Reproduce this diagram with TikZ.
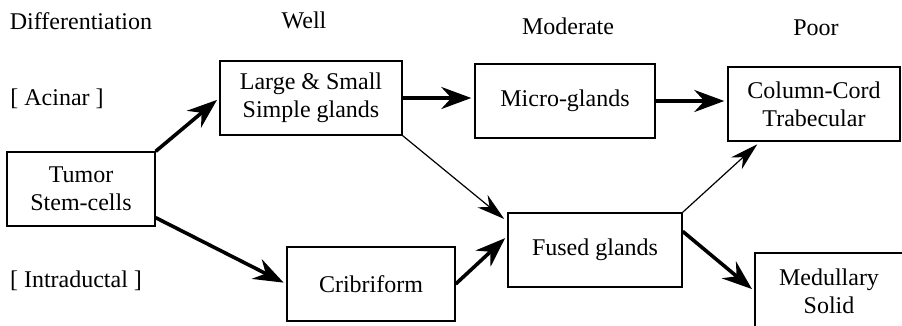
\documentclass[tikz,border=0pt]{standalone}
\usepackage{fontspec}
\setmainfont{Liberation Serif}
\usetikzlibrary{arrows.meta}
\begin{document}
\begin{tikzpicture}[x=0.5pt, y=-0.5pt, every node/.style={font=\fontsize{12}{14}\selectfont},
  box/.style={draw, line width=0.7pt, align=center, inner sep=0pt, minimum height=37pt},
  heavy/.style={line width=1.8pt, -{Stealth[length=15pt,width=11pt,inset=5pt]}, shorten >=1.5pt},
  light/.style={line width=0.6pt, -{Stealth[length=14pt,width=8pt,inset=4.5pt]}, shorten >=2pt}]
\useasboundingbox (0,0) rectangle (902,326);
\node (diff) at (81,21) {Differentiation};
\node (well) at (304,20) {Well};
\node (moder) at (568,26) {Moderate};
\node (poor) at (816,28) {Poor};
\node (acinar) at (57,99) {[ Acinar ]};
\node (intra) at (76,281) {[ Intraductal ]};
\node [box, minimum width=74pt] (tumor) at (81,189) {Tumor\\Stem-cells};
\node [box, minimum width=91pt] (large) at (311,98) {Large \& Small\\Simple glands};
\node [box, minimum width=84pt] (cribri) at (371,284) {Cribriform};
\node [box, minimum width=90pt] (micro) at (565,101) {Micro-glands};
\node [box, minimum width=87pt] (fused) at (595,250) {Fused glands};
\node [box, minimum width=86pt] (column) at (814,104) {Column-Cord\\Trabecular};
\node [box, minimum width=74pt, minimum height=38pt] (medul) at (829,291) {Medullary\\Solid};
\draw [heavy] (tumor.north east) -- (large.west);
\draw [heavy] (tumor.-21) -- (cribri.west);
\draw [heavy] (large.east) -- (large.east -| micro.west);
\draw [light] (large.south east) -- (fused.162);
\draw [heavy] (micro.east) -- (micro.east -| column.west);
\draw [heavy] (cribri.east) -- (fused.171);
\draw [light] (fused.north east) -- (column.215);
\draw [heavy] (fused.12) -- (medul.west);
\end{tikzpicture}
\end{document}
